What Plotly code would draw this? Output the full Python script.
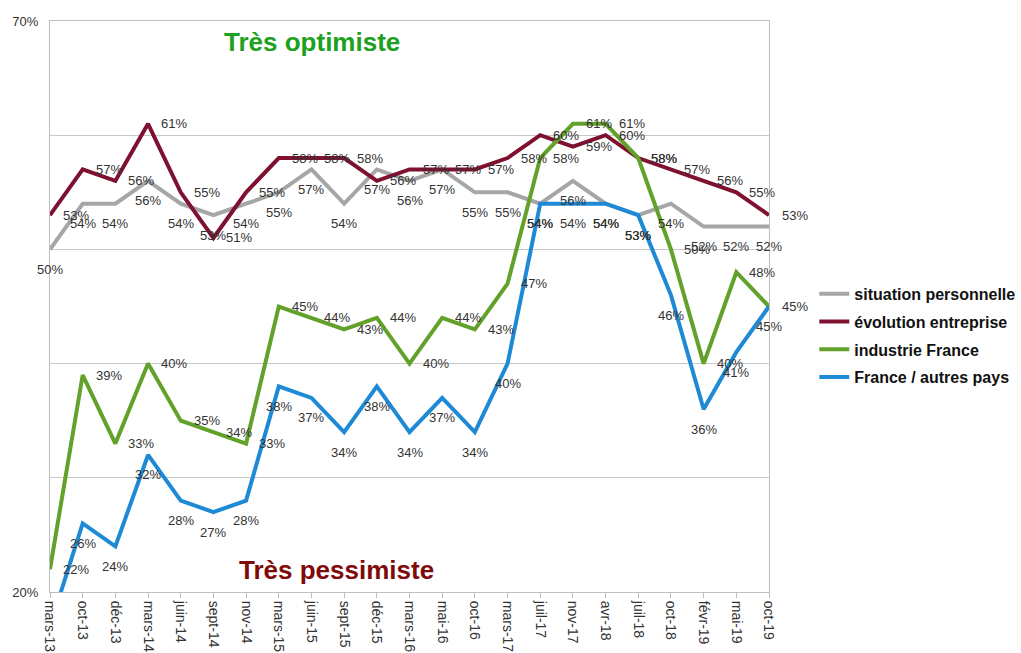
import plotly.graph_objects as go

categories = ["mars-13", "oct-13", "déc-13", "mars-14", "juin-14", "sept-14", "nov-14",
              "mars-15", "juin-15", "sept-15", "déc-15", "mars-16", "mai-16", "oct-16",
              "mars-17", "juil-17", "nov-17", "avr-18", "juil-18", "oct-18", "févr-19",
              "mai-19", "oct-19"]

situation_personnelle = [50, 54, 54, 56, 54, 53, 54, 55, 57, 54, 57, 56, 57, 55, 55, 54, 56, 54, 53, 54, 52, 52, 52]
evolution_entreprise = [53, 57, 56, 61, 55, 51, 55, 58, 58, 58, 56, 57, 57, 57, 58, 60, 59, 60, 58, 57, 56, 55, 53]
industrie_france = [22, 39, 33, 40, 35, 34, 33, 45, 44, 43, 44, 40, 44, 43, 47, 58, 61, 61, 58, 50, 40, 48, 45]
france_autres_pays = [17, 26, 24, 32, 28, 27, 28, 38, 37, 34, 38, 34, 37, 34, 40, 54, 54, 54, 53, 46, 36, 41, 45]

y_tickvals = [20, 30, 40, 50, 60, 70]
y_ticktext = ["20%", "", "", "", "", "70%"]

series = [
    ("situation personnelle", situation_personnelle, "#A6A6A6", "below"),
    ("évolution entreprise", evolution_entreprise, "#7F1130", "right"),
    ("industrie France", industrie_france, "#62A12A", "right"),
    ("France / autres pays", france_autres_pays, "#1E8AD6", "below"),
]

FONT = "Liberation Sans, Arial"

fig = go.Figure()
annotations = []
for i, (name, vals, color, pos) in enumerate(series):
    fig.add_trace(go.Scatter(
        x=categories, y=vals, mode="lines", name=name,
        line=dict(color=color, width=4), legendgroup=str(i),
    ))
    for c, v in zip(categories, vals):
        if v < y_tickvals[0]:
            continue
        if pos == "right":
            xs, ys = 26, 0
        else:
            xs, ys = 0, -20
        annotations.append(dict(
            x=c, y=v, xref="x", yref="y", text=f"{v}%", showarrow=False,
            xshift=xs, yshift=ys,
            font=dict(family=FONT, size=13, color="#333333"),
        ))

annotations.append(dict(
    x=0.364, y=0.963, xref="paper", yref="paper", text="<b>Très optimiste</b>",
    xanchor="center", yanchor="middle",
    showarrow=False, font=dict(family=FONT, size=26, color="#20A020"),
))
annotations.append(dict(
    x=0.399, y=0.0385, xref="paper", yref="paper", text="<b>Très pessimiste</b>",
    xanchor="center", yanchor="middle",
    showarrow=False, font=dict(family=FONT, size=26, color="#7F0A0A"),
))

fig.update_layout(
    width=1021, height=653,
    margin=dict(l=50, r=252, t=21, b=61, autoexpand=False),
    paper_bgcolor="white", plot_bgcolor="white",
    showlegend=True,
    legend=dict(
        x=1.063, y=0.552, xanchor="left", yanchor="top",
        font=dict(family=FONT, size=16, color="#111111", weight="bold"),
        tracegroupgap=4, itemwidth=30, bgcolor="rgba(0,0,0,0)",
    ),
    annotations=annotations,
    font=dict(family=FONT, color="#333333"),
)
fig.update_xaxes(
    type="category", range=[0, len(categories) - 1],
    showgrid=False, showline=True, linecolor="#BFBFBF", linewidth=1, mirror=True,
    ticks="outside", ticklen=5, tickcolor="#BFBFBF", tickangle=90,
    tickfont=dict(family=FONT, size=14, color="#333333"),
    automargin=False,
)
fig.update_yaxes(
    range=[20, 70], tickvals=y_tickvals, ticktext=y_ticktext,
    showgrid=True, gridcolor="#C8C8C8", gridwidth=1,
    showline=True, linecolor="#BFBFBF", linewidth=1, mirror=True,
    zeroline=False, ticks="", ticklabelstandoff=8,
    tickfont=dict(family=FONT, size=13, color="#333333"),
    automargin=False,
)

fig.write_html(
    "out.html",
    config={"displayModeBar": False},
    post_script="document.body.style.margin='0';document.body.style.overflow='hidden';",
)
